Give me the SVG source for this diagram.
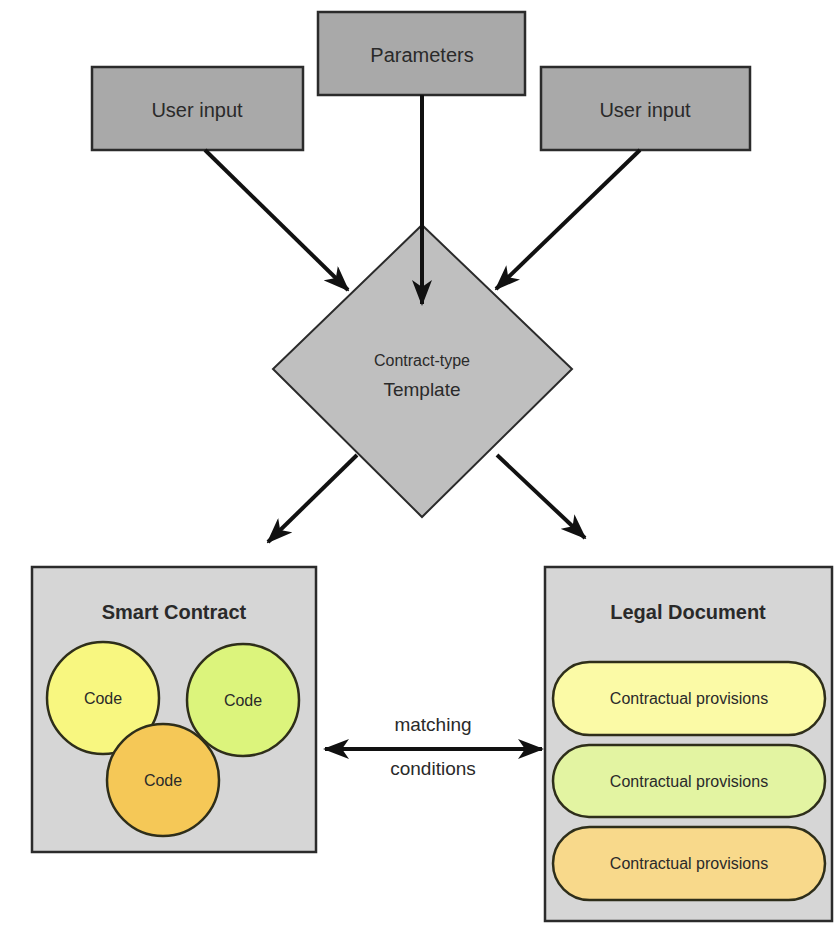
<svg xmlns="http://www.w3.org/2000/svg" width="840" height="925" viewBox="0 0 840 925">
  <style>
    text { font-family: "Liberation Sans", Arial, sans-serif; fill: #2a2a2a; text-anchor: middle; }
    .box { fill: #a9a9a9; stroke: #2b2b2b; stroke-width: 2.5; }
    .panel { fill: #d6d6d6; stroke: #2b2b2b; stroke-width: 2.5; }
    .diamond { fill: #bfbfbf; stroke: #2b2b2b; stroke-width: 2; }
    .blob { stroke: #2e2e1a; stroke-width: 2.5; }
    .conn { fill: none; stroke: #111; stroke-width: 4; }
    .lbl { font-size: 20px; }
    .title { font-size: 20px; font-weight: bold; }
    .small { font-size: 16px; }
  </style>
  <defs>
    <marker id="head" viewBox="0 0 26 20" refX="24" refY="10" markerWidth="26" markerHeight="20" markerUnits="userSpaceOnUse" orient="auto-start-reverse">
      <path d="M0,0 L26,10 L0,20 L7,10 Z" fill="#111"/>
    </marker>
  </defs>

  <rect width="840" height="925" fill="#ffffff"/>

  <!-- input boxes -->
  <g id="user-input-left">
    <rect class="box" x="92" y="67" width="211" height="83"/>
    <text class="lbl" x="197" y="117">User input</text>
  </g>
  <g id="parameters">
    <rect class="box" x="318" y="12" width="207" height="83"/>
    <text class="lbl" x="422" y="62">Parameters</text>
  </g>
  <g id="user-input-right">
    <rect class="box" x="541" y="67" width="209" height="83"/>
    <text class="lbl" x="645" y="117">User input</text>
  </g>

  <!-- template diamond -->
  <g id="template">
    <polygon class="diamond" points="422,225 572,369 422,517 273,369"/>
    <text class="small" x="422" y="366">Contract-type</text>
    <text x="422" y="396" style="font-size:19px">Template</text>
  </g>

  <!-- smart contract panel -->
  <g id="smart-contract">
    <rect class="panel" x="32" y="567" width="284" height="285"/>
    <text class="title" x="174" y="619">Smart Contract</text>
    <circle class="blob" cx="103" cy="698" r="56" fill="#f8f780"/>
    <circle class="blob" cx="243" cy="700" r="56" fill="#dcf47c"/>
    <circle class="blob" cx="163" cy="780" r="56" fill="#f5c857"/>
    <text class="small" x="103" y="704">Code</text>
    <text class="small" x="243" y="706">Code</text>
    <text class="small" x="163" y="786">Code</text>
  </g>

  <!-- legal document panel -->
  <g id="legal-document">
    <rect class="panel" x="545" y="567" width="287" height="354"/>
    <text class="title" x="688" y="619">Legal Document</text>
    <rect class="blob" x="553" y="662" width="272" height="73" rx="36.5" fill="#fbfaa6"/>
    <rect class="blob" x="553" y="745" width="272" height="72" rx="36" fill="#e3f4a2"/>
    <rect class="blob" x="553" y="827" width="272" height="73" rx="36.5" fill="#f8d98b"/>
    <text class="small" x="689" y="704">Contractual provisions</text>
    <text class="small" x="689" y="787">Contractual provisions</text>
    <text class="small" x="689" y="869">Contractual provisions</text>
  </g>

  <!-- connectors -->
  <g id="connectors">
    <line class="conn" x1="205" y1="150" x2="348" y2="290" marker-end="url(#head)"/>
    <line class="conn" x1="422" y1="95" x2="422" y2="304" marker-end="url(#head)"/>
    <line class="conn" x1="640" y1="150" x2="496" y2="289" marker-end="url(#head)"/>
    <line class="conn" x1="357" y1="455" x2="268" y2="542" marker-end="url(#head)"/>
    <line class="conn" x1="497" y1="455" x2="585" y2="538" marker-end="url(#head)"/>
    <line class="conn" x1="325" y1="749" x2="542" y2="749" marker-start="url(#head)" marker-end="url(#head)"/>
    <text style="font-size:19px" x="433" y="731">matching</text>
    <text style="font-size:19px" x="433" y="775">conditions</text>
  </g>
</svg>
